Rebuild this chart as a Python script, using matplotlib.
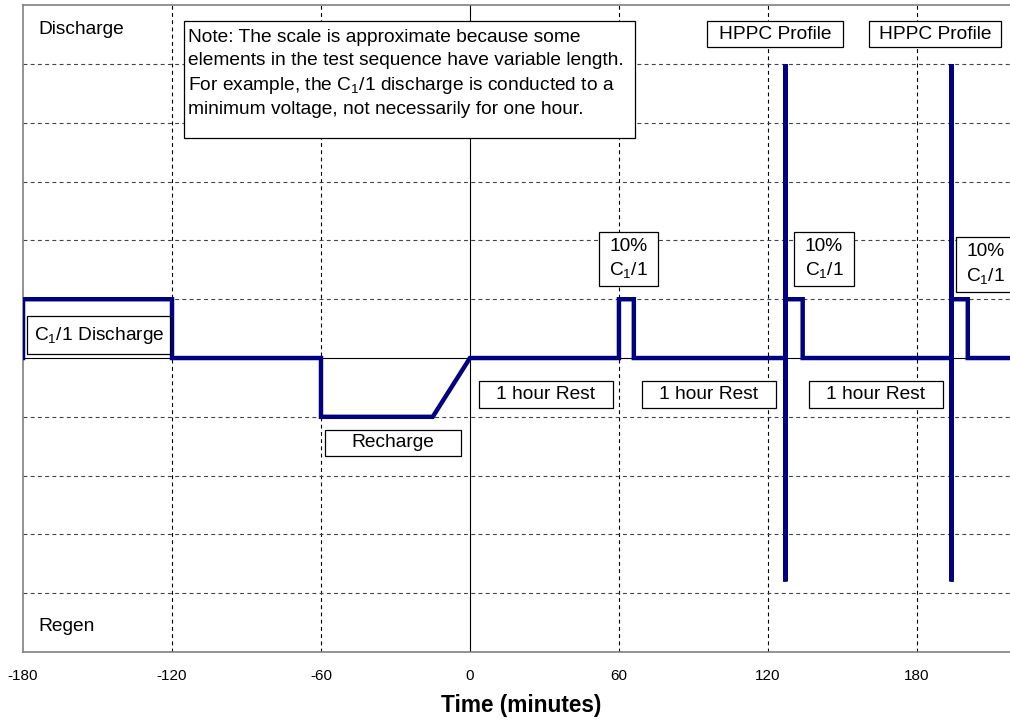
import matplotlib
matplotlib.use("Agg")
import matplotlib.pyplot as plt
from matplotlib.patches import Rectangle

plt.rcParams["font.family"] = ["Liberation Sans", "DejaVu Sans"]
plt.rcParams["mathtext.fontset"] = "custom"
plt.rcParams["mathtext.rm"] = "Liberation Sans"
plt.rcParams["mathtext.it"] = "Liberation Sans"

# test profile (time in minutes, relative current level)
t_min = [-180, -180, -120, -120, -60, -60, -15, 0, 60, 60, 66, 66,
         127, 127, 127, 127, 127, 134, 134, 194, 194, 194, 194, 194,
         200.5, 200.5, 218]
level = [0, 1, 1, 0, 0, -1, -1, 0, 0, 1, 1, 0,
         0, 5, -3.8, 0, 1, 1, 0, 0, 5, -3.8, 0, 1,
         1, 0, 0]

x_ticks = [-180, -120, -60, 0, 60, 120, 180]

# boxed labels: text, centre x, centre y, box width, box height
box_labels = [
    ("HPPC Profile", 123.0, 5.51, 54.8, 0.445),
    ("HPPC Profile", 187.3, 5.51, 52.8, 0.445),
    ("10%\nC$_1$/1", 63.8, 1.68, 23.8, 0.925),
    ("10%\nC$_1$/1", 142.6, 1.68, 23.8, 0.925),
    ("10%\nC$_1$/1", 207.6, 1.59, 23.8, 0.925),
    ("C$_1$/1 Discharge", -149.5, 0.39, 57.6, 0.65),
    ("1 hour Rest", 30.6, -0.62, 54.0, 0.445),
    ("1 hour Rest", 96.2, -0.62, 54.0, 0.445),
    ("1 hour Rest", 163.5, -0.62, 54.0, 0.445),
    ("Recharge", -31.0, -1.44, 54.8, 0.445),
]

NOTE = ("Note: The scale is approximate because some\n"
        "elements in the test sequence have variable length.\n"
        "For example, the C$_1$/1 discharge is conducted to a\n"
        "minimum voltage, not necessarily for one hour.")

fig = plt.figure(figsize=(10.10, 7.21), dpi=100)
ax = fig.add_axes([0.0228, 0.0957, 0.9772, 0.897])
ax.set_xlim(-180, 217.5)
ax.set_ylim(-5, 6)

# grid
for gx in x_ticks[1:]:
    if gx == 0:
        ax.axvline(gx, color="black", lw=0.8, zorder=1)
    else:
        ax.axvline(gx, color="black", lw=0.8, ls=(0, (3.5, 3)), zorder=1)
for gy in range(-4, 6):
    if gy == 0:
        ax.axhline(gy, color="black", lw=0.8, zorder=1)
    else:
        ax.axhline(gy, color="#444444", lw=0.8, ls=(0, (3.5, 3)), zorder=1)

ax.plot(t_min, level, color="#000080", lw=3.2, solid_joinstyle="miter", zorder=3)

for txt, cx, cy, w, h in box_labels:
    ax.add_patch(Rectangle((cx - w / 2, cy - h / 2), w, h, facecolor="white",
                           edgecolor="black", lw=0.9, zorder=4))
    ax.text(cx, cy, txt, ha="center", va="center", fontsize=13.8,
            linespacing=1.35, zorder=5)

# note box
ax.add_patch(Rectangle((-115.3, 3.75), 181.6, 1.99, facecolor="white",
                       edgecolor="black", lw=0.9, zorder=4))
ax.text(-113.6, 5.59, NOTE, ha="left", va="top", fontsize=13.8,
        linespacing=1.4, zorder=5)

ax.text(-174, 5.58, "Discharge", ha="left", va="center", fontsize=13.8)
ax.text(-174, -4.57, "Regen", ha="left", va="center", fontsize=13.8)

ax.set_xticks(x_ticks)
ax.set_xticklabels([str(v) for v in x_ticks], fontsize=11)
ax.set_yticks([])
ax.tick_params(axis="x", length=0, pad=12)
ax.set_xlabel("Time (minutes)", fontsize=16.3, fontweight="bold")
ax.xaxis.set_label_coords(0.5045, -0.065)
for side in ("left", "bottom", "top"):
    ax.spines[side].set_color("#808080")
    ax.spines[side].set_linewidth(1.2)
ax.spines["right"].set_visible(False)

fig.savefig("out.png", dpi=100)
